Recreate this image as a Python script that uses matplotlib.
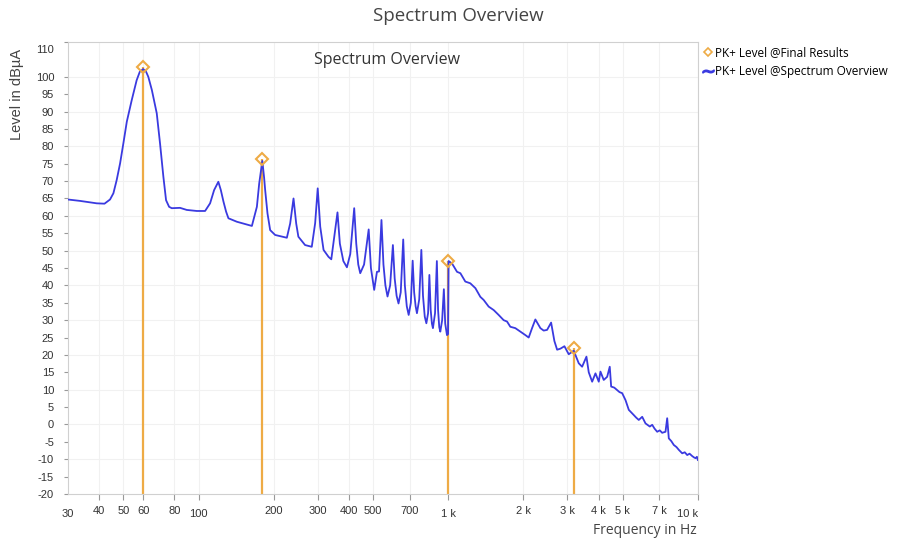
import matplotlib
matplotlib.use("Agg")
import matplotlib.pyplot as plt
from matplotlib.lines import Line2D

# Spectrum trace (frequency in Hz, level in dBuA)
freq = [30, 33.5, 39.1, 42, 44.2, 45.6, 47.0, 48.5, 50.0, 51.6, 54.0, 56.5, 58.2, 60, 61.5,
        62.9, 65.0, 68.0, 70.1, 72.3, 74.1, 76.2,
        78.1, 84.3, 89.7, 98.4, 106.2, 111.2, 115.4, 120, 122.8, 125.8, 128.9, 131.7, 142.4,
        163.5, 171.2, 174.9, 180, 183, 184.8, 188.8, 193.5, 202.6, 225.7, 232.7, 240, 246,
        251, 267, 284, 293, 300, 307,
        316.6, 331.5, 340, 348, 360, 368, 380, 392.7, 405, 420, 428, 436, 444, 460, 480,
        490, 505, 518, 528, 540, 550, 560, 571, 585, 600, 610, 621, 632, 645, 660, 670,
        682, 694, 708, 720, 730, 740, 749, 765, 780, 792, 805, 817, 830, 840, 850, 860,
        868, 885, 900, 910, 920, 929, 945, 960, 972, 988, 998,
        1003, 1035, 1084, 1118, 1170, 1225, 1284, 1344, 1386, 1451, 1520, 1591, 1666,
        1719, 1772, 1856, 1944, 2036, 2099, 2165, 2232, 2338, 2410, 2487, 2581, 2660,
        2728, 2812, 2918, 3036, 3180, 3330, 3435, 3575, 3652, 3768, 3885, 4005, 4068,
        4193, 4327, 4432, 4490, 4620, 4746, 4850, 4970, 5125, 5283, 5400, 5532, 5650,
        5792, 5978, 6163, 6413, 6555, 6700, 6864, 7030, 7187, 7410, 7527, 7640, 7820,
        8000, 8200, 8378, 8645, 8850, 9053, 9250, 9482, 9650, 9779, 9900, 9986]
level = [64.7, 64.3, 63.6, 63.5, 64.7, 66.5, 70.3, 75.1, 80.9, 87.1, 93.3, 99.0, 101.5, 102.2, 101.6,
         100.0, 96.2, 89.5, 80.8, 71.2, 64.5, 62.6,
         62.2, 62.3, 61.7, 61.4, 61.4, 63.6, 67.4, 69.8, 67.4, 64.1, 61.2, 59.3, 58.3,
         57.1, 62.6, 69.3, 75.8, 71.0, 67.4, 60.7, 55.9, 54.5, 53.7, 57.8, 65.0, 57.8,
         54.0, 51.6, 51.1, 57.9, 67.9, 56.9,
         50.2, 48.2, 47.5, 53.0, 61.0, 52.0, 47.0, 45.2, 49.0, 62.2, 52.0, 46.0, 43.5, 46.0, 56.1,
         45.0, 38.7, 43.9, 44.0, 58.8, 46.0, 40.0, 36.8, 40.0, 51.6, 42.0, 37.0, 34.8, 38.0, 53.2, 40.0,
         34.0, 31.5, 35.0, 47.1, 38.0, 34.0, 32.0, 36.0, 50.2, 37.0, 31.0, 29.1, 32.0, 43.0, 33.0, 29.0,
         27.7, 32.0, 47.0, 33.0, 28.0, 26.7, 30.0, 38.9, 29.0, 25.7, 26.0,
         47.0, 46.3, 43.9, 43.5, 41.1, 40.6, 39.2, 36.7, 35.8, 33.9, 32.9, 31.5, 30.0,
         29.6, 28.1, 27.7, 26.7, 25.7, 25.0, 27.7, 30.2, 27.7, 27.0, 27.2, 29.3, 24.0,
         21.5, 21.8, 22.5, 20.2, 21.2, 17.6, 16.6, 19.5, 15.0, 12.3, 14.7, 12.3, 15.2,
         12.8, 13.7, 16.6, 10.9, 10.6, 9.9, 9.3, 9.0, 7.0, 4.2, 3.5, 2.7, 2.0,
         1.3, 2.2, 0.3, -0.6, -0.1, -1.2, -2.1, -1.7, -2.4, -2.1, 1.8, -4.0, -4.8,
         -5.9, -6.5, -7.3, -8.3, -8.0, -8.8, -8.4, -9.1, -9.5, -9.7, -9.3, -10.2]

# Final result peaks
peak_freq = [60, 180, 1000, 3180]
peak_level = [102.9, 76.3, 47.1, 22.1]

xtick_vals = [30, 40, 50, 60, 80, 100, 200, 300, 400, 500, 700, 1000, 2000, 3000, 4000, 5000, 7000, 10000]
xtick_text = ["30", "40", "50", "60", "80", "100", "200", "300", "400", "500", "700",
              "1 k", "2 k", "3 k", "4 k", "5 k", "7 k", "10 k"]
ytick_vals = [v for v in range(-20, 111, 5) if v != 105]

blue = "#3a3ae0"
orange = "#eeab45"

fig = plt.figure(figsize=(9.08, 5.44), dpi=100)
ax = fig.add_axes([68 / 908, 1 - 494 / 544, 630 / 908, 452 / 544])

ax.set_xscale("log")
ax.set_xlim(30, 10000)
ax.set_ylim(-20, 110)

# faint grid
for f in xtick_vals[1:]:
    ax.axvline(f, color="#f1f1f1", lw=0.8, zorder=0)
for v in range(-10, 110, 10):
    ax.axhline(v, color="#f1f1f1", lw=0.8, zorder=0)

# trace and peak markers
ax.plot(freq, level, color=blue, lw=1.3, zorder=3)
ax.vlines(peak_freq, -20, peak_level, color=orange, lw=1.6, zorder=2)
ax.plot(peak_freq, peak_level, ls="none", marker="D", ms=6.5, mfc="none",
        mec=orange, mew=1.5, zorder=4)

for s in ax.spines.values():
    s.set_color("#d0d0d0")
    s.set_linewidth(0.8)

# y ticks
ax.set_yticks(ytick_vals)
ax.set_yticklabels(["" if v == 110 else str(v) for v in ytick_vals],
                   fontsize=8, family="Liberation Sans", color="#333333")
ax.annotate("110", xy=(0, 110), xycoords=("axes fraction", "data"), xytext=(-10, -6),
            textcoords="offset points", ha="right", va="center", fontsize=8,
            family="Liberation Sans", color="#333333")
ax.tick_params(axis="y", length=3, width=0.8, color="#999999", pad=7)

# x ticks, labels placed by hand (some sit a little lower)
ax.minorticks_off()
ax.set_xticks(xtick_vals[1:])
ax.set_xticklabels([])
ax.tick_params(axis="x", length=4, width=0.8, color="#999999")
for f, t in zip(xtick_vals, xtick_text):
    low = t in ("30", "100", "1 k", "10 k")
    ha = "right" if t == "10 k" else "center"
    ax.annotate(t, xy=(f, 0), xycoords=("data", "axes fraction"),
                xytext=(0, -10.5 if low else -8.5), textcoords="offset points",
                ha=ha, va="top", fontsize=8, family="Liberation Sans", color="#333333")

fig.text(17 / 908, 1 - 94 / 544, "Level in dB\u00b5A", rotation=90, ha="center", va="center",
         fontsize=10.5, family="Liberation Sans", color="#444444")
fig.text(697 / 908, 1 - 530 / 544, "Frequency in Hz", ha="right", va="center",
         fontsize=10, family="Open Sans", color="#444444")
fig.text(458 / 908, 1 - 16 / 544, "Spectrum Overview", ha="center", va="center",
         fontsize=13.5, family="Open Sans", color="#444444")
ax.text(387.5 / 908, 1 - 60 / 544, "Spectrum Overview", transform=fig.transFigure,
        ha="center", va="center", fontsize=11.5, family="Open Sans", color="#333333")

handles = [
    Line2D([], [], ls="none", marker="D", ms=4, mfc="none", mec=orange, mew=1.2,
           label="PK+ Level @Final Results"),
    Line2D([], [], ls="none", marker=r"$\sim$", ms=8, color=blue,
           label="PK+ Level @Spectrum Overview"),
]
fig.legend(handles=handles, loc="upper left", bbox_to_anchor=(699 / 908, 1 - 40 / 544),
           frameon=False, handlelength=0.6, handletextpad=0.25, borderpad=0,
           labelspacing=0.55, prop={"family": "Open Sans", "size": 8.5})

fig.savefig("out.png", dpi=100)
